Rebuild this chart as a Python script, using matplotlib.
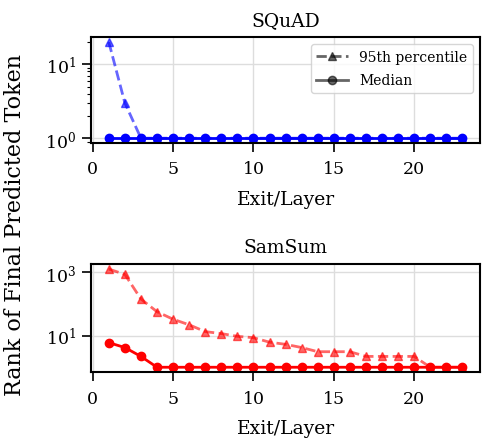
import matplotlib
matplotlib.use("Agg")
import matplotlib.pyplot as plt
from matplotlib.lines import Line2D
from matplotlib.ticker import NullLocator

plt.rcParams['font.family'] = ['DejaVu Serif']
plt.rcParams['mathtext.fontset'] = 'dejavuserif'

layers = list(range(1, 24))
squad_p95 = [20, 3, 1] + [1] * 20
squad_median = [1] * 23
samsum_p95 = [1275, 865, 144, 57, 33, 22, 13.4, 11.6, 9.5, 8.6, 6.2, 5.3, 4.2,
              3.1, 3.1, 3.1, 2.2, 2.2, 2.2, 2.2, 1, 1, 1]
samsum_median = [6, 4.2, 2.2] + [1] * 20

titles = ["SQuAD", "SamSum"]
colors = ["blue", "red"]
xlabel = "Exit/Layer"
ylabel = "Rank of Final Predicted Token"
legend_labels = ["95th percentile", "Median"]

fig = plt.figure(figsize=(4.82, 4.39), dpi=100)
ax1 = fig.add_axes([0.189, 0.672, 0.807, 0.241])
ax2 = fig.add_axes([0.189, 0.150, 0.807, 0.246])

for ax, p95, med, title, c in [(ax1, squad_p95, squad_median, titles[0], colors[0]),
                                (ax2, samsum_p95, samsum_median, titles[1], colors[1])]:
    ax.plot(layers, p95, linestyle='--', marker='^', color=c, alpha=0.6,
            linewidth=2, markersize=6)
    ax.plot(layers, med, linestyle='-', marker='o', color=c, alpha=1.0,
            linewidth=2, markersize=6)
    ax.set_yscale('log')
    ax.set_title(title, fontsize=13.5, pad=9)
    ax.set_xlabel(xlabel, fontsize=13.5, labelpad=9)
    ax.grid(True, color='#dddddd', linewidth=1)
    ax.set_axisbelow(True)
    ax.set_xticks([0, 5, 10, 15, 20])
    ax.tick_params(axis='both', which='major', labelsize=12.5, direction='out',
                   length=6.5, width=1.2)
    ax.tick_params(axis='x', which='major', pad=6)
    ax.tick_params(axis='y', which='major', pad=4)
    ax.tick_params(axis='y', which='minor', length=3, width=0.8)
    for s in ax.spines.values():
        s.set_linewidth(1.5)

ax2.yaxis.set_minor_locator(NullLocator())

handles = [Line2D([], [], color='k', alpha=0.6, linestyle='--', marker='^', linewidth=2, markersize=6),
           Line2D([], [], color='k', alpha=0.6, linestyle='-', marker='o', linewidth=2, markersize=6)]
ax1.legend(handles, legend_labels, loc='upper right', fontsize=10, framealpha=0.8,
           handlelength=2.3, labelspacing=0.7)

fig.text(0.032, 0.487, ylabel, rotation=90, ha='center', va='center', fontsize=16)

fig.savefig("out.png", dpi=100)
